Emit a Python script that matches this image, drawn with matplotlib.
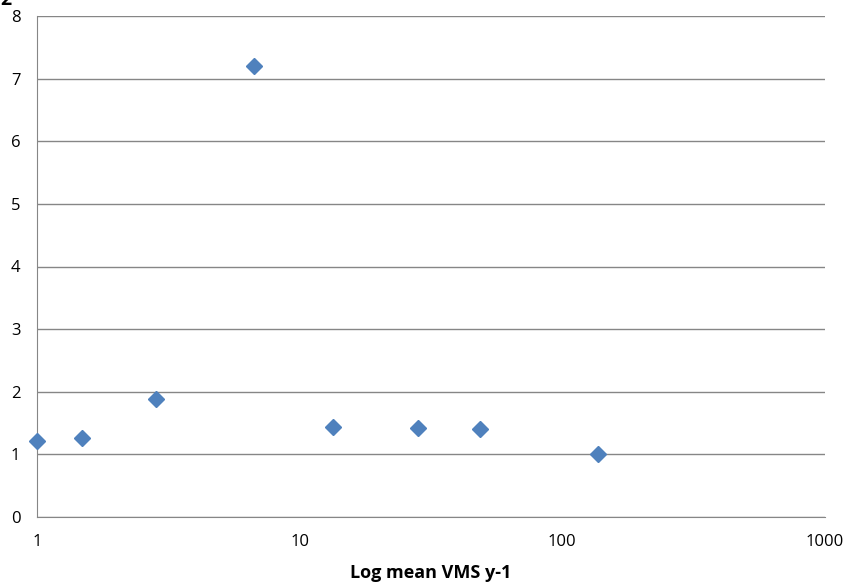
import matplotlib
matplotlib.use("Agg")
import matplotlib.pyplot as plt
from matplotlib.ticker import FixedLocator, FixedFormatter, NullLocator

x_vals = [1.0, 1.48, 2.84, 6.7, 13.4, 28.2, 48.6, 136.7]
y_vals = [1.21, 1.26, 1.88, 7.20, 1.44, 1.42, 1.41, 1.01]
x_ticks = [1, 10, 100, 1000]
x_tick_labels = ["1", "10", "100", "1000"]
y_ticks = [0, 1, 2, 3, 4, 5, 6, 7, 8]
x_title = "Log mean VMS y-1"

plt.rcParams['font.family'] = ['Open Sans', 'DejaVu Sans']

fig = plt.figure(figsize=(8.44, 5.83), dpi=100)
ax = fig.add_axes([37/844, 66/583, 788/844, 501/583])
ax.set_xscale('log')
ax.set_xlim(1, 1000)
ax.set_ylim(0, 8)
ax.set_yticks(y_ticks)
ax.xaxis.set_major_locator(FixedLocator(x_ticks))
ax.xaxis.set_major_formatter(FixedFormatter(x_tick_labels))
ax.xaxis.set_minor_locator(NullLocator())
ax.grid(axis='y', color='#868686', linewidth=1)
ax.set_axisbelow(True)
for s in ['top', 'right']:
    ax.spines[s].set_visible(False)
for s in ['left', 'bottom']:
    ax.spines[s].set_color('#868686')
ax.tick_params(axis='both', length=0, labelsize=12, colors='#000000')
ax.tick_params(axis='x', pad=12)
ax.tick_params(axis='y', pad=12)
ax.plot(x_vals, y_vals, linestyle='none', marker='D', markersize=8,
        color='#4F81BD', clip_on=False, zorder=3)
ax.set_xlabel(x_title, fontsize=13, fontweight='bold', labelpad=10)
fig.text(0.0, 1.0, "2", fontsize=14, fontweight='bold', ha='left', va='center')
fig.savefig("out.png", dpi=100)
